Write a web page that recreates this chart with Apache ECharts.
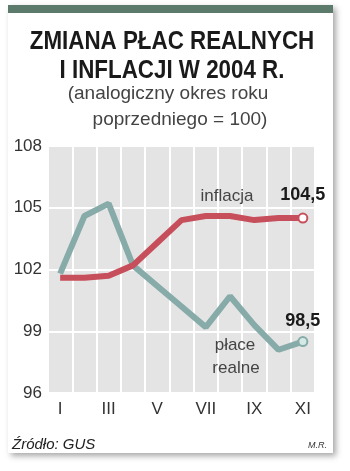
<!DOCTYPE html>
<html><head><meta charset="utf-8">
<script src="https://cdn.jsdelivr.net/npm/echarts@6/dist/echarts.min.js"></script>
<style>html,body{margin:0;padding:0;background:#fff}#c{width:350px;height:471px}</style>
</head><body><div id="c"></div>
<script>
const months = ['I','II','III','IV','V','VI','VII','VIII','IX','X','XI'];
const inflacja = [101.6,101.6,101.7,102.2,103.3,104.4,104.6,104.6,104.4,104.5,104.5];
const place = [101.8,104.6,105.2,102.2,101.2,100.2,99.2,100.7,99.3,98.1,98.5];
const yTicks = [96,99,102,105,108];

const RED = '#c74f5b', TEAL = '#86aba8';
const fmt = v => v.toFixed(1).replace('.', ',');
function mk(arr, color, fill, dist){
  return arr.map((v,i)=> i===arr.length-1
    ? {value:v, symbol:'circle', symbolSize:9, itemStyle:{color:fill, borderColor:color, borderWidth:2},
       label:{show:true, position:'top', distance:dist, formatter:()=>fmt(v), fontFamily:'Liberation Sans, sans-serif', fontWeight:'bold', fontSize:18, color:'#1a1a1a'}}
    : {value:v, symbol:'none'});
}
function txt(x, y, text, font, extra){
  return Object.assign({type:'text', z:100, x:x, y:y, style:{text:text, font:font, fill:'#444', textAlign:'center', textVerticalAlign:'middle'}}, extra||{});
}
const TF = 'bold 26px "Liberation Sans", sans-serif';
const SF = '17px "Liberation Sans", sans-serif';
const SUB = '19px "Liberation Sans", sans-serif';
const chart = echarts.init(document.getElementById('c'), null, {renderer:'canvas'});
chart.setOption({
  animation:false,
  backgroundColor:'#fff',
  graphic:[
    {type:'rect', z:-10, shape:{x:8,y:5,width:325,height:448}, style:{fill:'#fff', shadowBlur:6, shadowOffsetX:3, shadowOffsetY:3, shadowColor:'rgba(0,0,0,0.35)'}},
    {type:'rect', z:-9, shape:{x:8,y:5,width:325,height:8}, style:{fill:'#5d7b6c'}},
    txt(172, 42, '', TF, {scaleX:0.86, style:{text:'ZMIANA PŁAC REALNYCH', font:TF, fill:'#1a1a1a', textAlign:'center', textVerticalAlign:'middle'}}),
    txt(172, 71, '', TF, {scaleX:0.86, style:{text:'I INFLACJI W 2004 R.', font:TF, fill:'#1a1a1a', textAlign:'center', textVerticalAlign:'middle'}}),
    txt(168, 94, '(analogiczny okres roku', SUB),
    txt(180, 120, 'poprzedniego = 100)', SUB),
    txt(227, 196, 'inflacja', SF),
    txt(235, 345, 'płace', SF),
    txt(236, 368, 'realne', SF),
    {type:'text', z:100, left:12, top:437, style:{text:'Źródło: GUS', font:'italic 15px "Liberation Sans", sans-serif', fill:'#222'}},
    {type:'text', z:100, left:308, top:441, style:{text:'M.R.', font:'italic 9px "Liberation Sans", sans-serif', fill:'#333'}}
  ],
  grid:{left:48, right:35, top:146, bottom:78, show:true, backgroundColor:'#e4e4e4', borderWidth:0},
  xAxis:{type:'category', data:months, boundaryGap:true,
    axisLine:{show:false}, axisTick:{show:false},
    axisLabel:{interval:1, margin:8, fontSize:17, color:'#333', fontFamily:'Liberation Sans, sans-serif'},
    splitLine:{show:true, interval:0, lineStyle:{color:'#fff', width:2}}},
  yAxis:{type:'value', min:96, max:108, interval:3,
    axisLine:{show:false}, axisTick:{show:false},
    axisLabel:{margin:6, fontSize:17, color:'#333', fontFamily:'Liberation Sans, sans-serif', formatter:v=>yTicks.includes(v)?String(v):''},
    splitLine:{lineStyle:{color:'#fff', width:2}}},
  series:[
    {type:'line', data:mk(place, TEAL, '#d4e8e6', 6), symbol:'none', lineStyle:{color:TEAL, width:6}, itemStyle:{color:TEAL}, z:3},
    {type:'line', data:mk(inflacja, RED, '#fff', 9), symbol:'none', lineStyle:{color:RED, width:6}, itemStyle:{color:RED}, z:4}
  ]
});
</script></body></html>
